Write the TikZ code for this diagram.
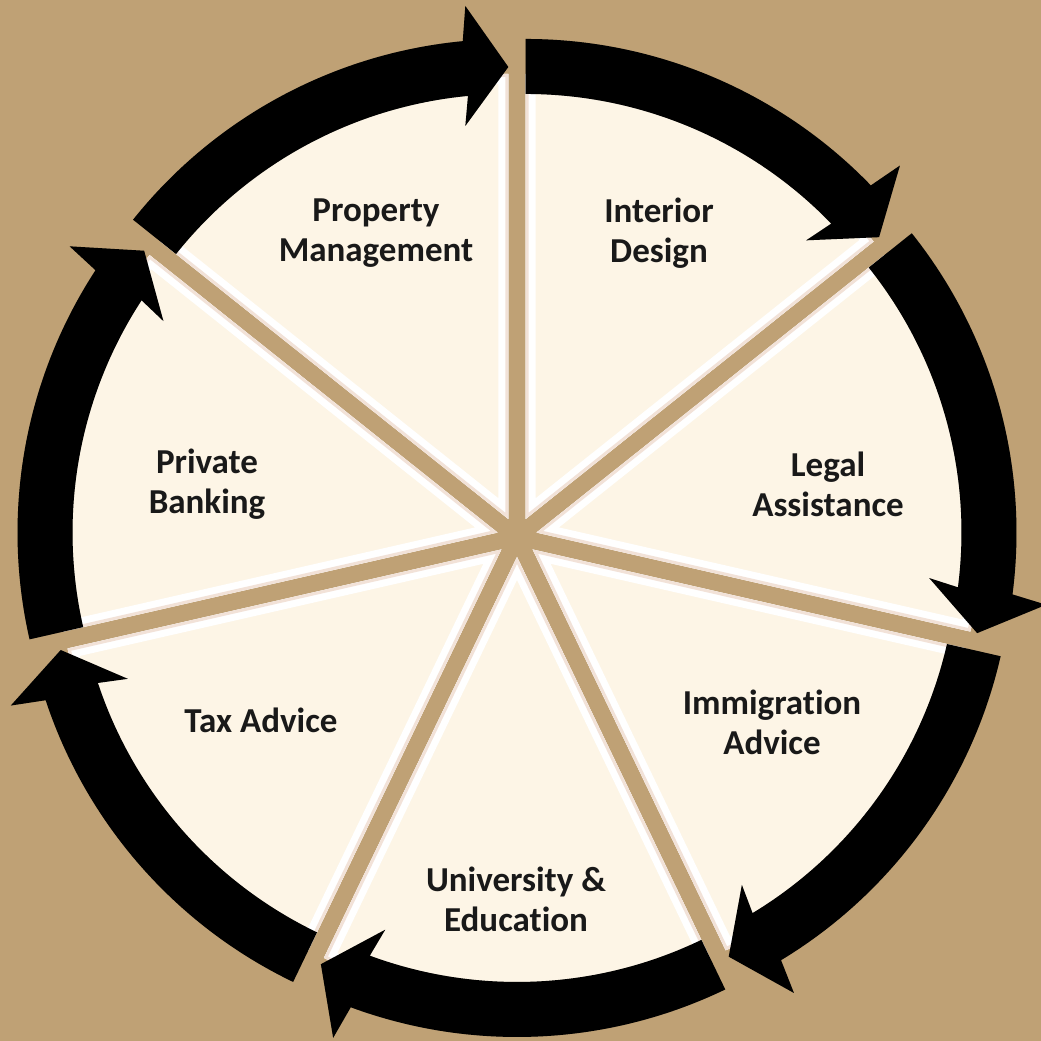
\documentclass[tikz,border=0pt]{standalone}
\usepackage{fontspec}
\setmainfont{Carlito}[Ligatures={NoCommon}]
\usetikzlibrary{calc}
\definecolor{bgtan}{RGB}{191,161,117}
\definecolor{cream}{RGB}{253,245,230}
\definecolor{bevelpink}{RGB}{242,226,216}
\begin{document}
\begin{tikzpicture}[x=1pt,y=1pt,
  seglabel/.style={font=\fontsize{35}{40}\selectfont\bfseries, text=black!90, align=center},
  arrowshadow/.style={fill=black, opacity=0.18}]
\useasboundingbox (0,0) rectangle (1041,1041);
\fill[bgtan] (0,0) rectangle (1041,1041);
\coordinate (C) at (517,504);
% wedges
\foreach \k in {0,...,6}{
  \pgfmathsetmacro{\ts}{90-\k*360/7}
  \pgfmathsetmacro{\te}{\ts-360/7}
  \pgfmathsetmacro{\bi}{\ts-180/7}
  \coordinate (O\k) at ($(C)+(\bi:20)$);
  \fill[black, opacity=0.12, shift={(1.5,-2)}] (O\k) -- ($(O\k)+(\ts:445)$) arc[start angle=\ts, end angle=\te, radius=445] -- cycle;
  \fill[cream] (O\k) -- ($(O\k)+(\ts:445)$) arc[start angle=\ts, end angle=\te, radius=445] -- cycle;
  \begin{scope}
    \clip (O\k) -- ($(O\k)+(\ts:445)$) arc[start angle=\ts, end angle=\te, radius=445] -- cycle;
    \draw[white, line width=20, line join=miter] (O\k) -- ($(O\k)+(\ts:445)$) arc[start angle=\ts, end angle=\te, radius=445] -- cycle;
    \draw[bevelpink, line width=6, line join=miter] (O\k) -- ($(O\k)+(\ts:445)$) arc[start angle=\ts, end angle=\te, radius=445] -- cycle;
  \end{scope}
}
% arrows
\foreach \k in {0,...,6}{
  \pgfmathsetmacro{\ts}{90-\k*360/7}
  \pgfmathsetmacro{\te}{\ts-360/7}
  \pgfmathsetmacro{\tn}{\te+5.45}
  \coordinate (T\k) at ($(O\k)+(\te:452)$);
  \fill[arrowshadow, shift={(2,-3)}] ($(O\k)+(\ts:480)$) arc[start angle=\ts, end angle=\tn, radius=480]
     -- ($(T\k)+(\te+90:43)+(\te:61)$) -- (T\k) -- ($(T\k)+(\te+90:43)+(\te+180:59)$)
     -- ($(O\k)+(\tn:425)$) arc[start angle=\tn, end angle=\ts, radius=425] -- cycle;
  \fill[black] ($(O\k)+(\ts:480)$) arc[start angle=\ts, end angle=\tn, radius=480]
     -- ($(T\k)+(\te+90:43)+(\te:61)$) -- (T\k) -- ($(T\k)+(\te+90:43)+(\te+180:59)$)
     -- ($(O\k)+(\tn:425)$) arc[start angle=\tn, end angle=\ts, radius=425] -- cycle;
}
% labels
\node[seglabel] (tprop) at (376,808) {Property\\Management};
\node[seglabel] (tint) at (659,808) {Interior\\Design};
\node[seglabel] (tlegal) at (828,557) {Legal\\Assistance};
\node[seglabel] (tpriv) at (207,557) {Private\\Banking};
\node[seglabel] (timm) at (772,319) {Immigration\\Advice};
\node[seglabel] (ttax) at (261,321) {Tax Advice};
\node[seglabel] (tuni) at (516,142) {University \&\\Education};
\end{tikzpicture}
\end{document}
